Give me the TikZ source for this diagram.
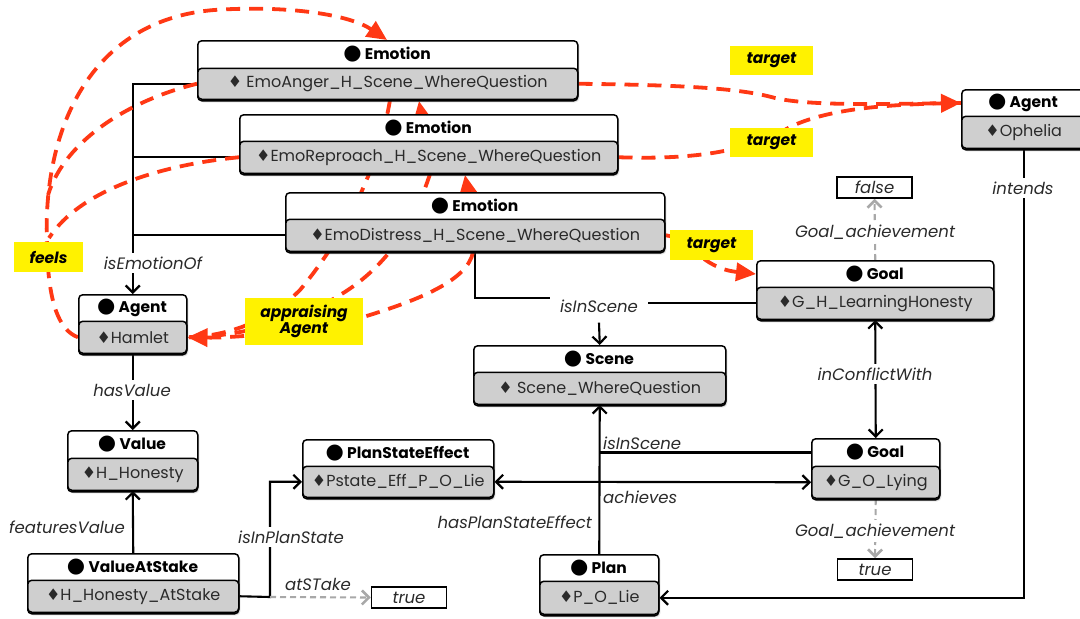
\documentclass[tikz,border=0pt]{standalone}
\usepackage{fontspec}
\setmainfont{Poppins}
\newfontfamily\symf{DejaVu Sans}
\usetikzlibrary{arrows.meta,shadows}
\pgfdeclarelayer{back}
\pgfdeclarelayer{bg}
\pgfdeclarelayer{mid}
\pgfsetlayers{back,bg,mid,main}
\definecolor{redd}{HTML}{FF3814}
\definecolor{boxgray}{HTML}{CFCFCF}
\definecolor{dgray}{HTML}{A8A8A8}
\definecolor{txt}{HTML}{2A2A2A}
\newcommand\fs{\fontsize{16}{18}\selectfont}
\newcommand\fh{\fontsize{15.5}{18}\selectfont}
\newcommand\fr{\fontsize{16.5}{18}\selectfont}
\newcommand\dotm{{\symf\fontsize{21}{21}\selectfont ●}}
\newcommand\dia{{\symf ♦}}
\tikzset{
  outerbox/.style={draw=black, line width=1.5pt, fill=white, rounded corners=4pt, inner sep=0pt,
     drop shadow={opacity=0.25, shadow xshift=1.5pt, shadow yshift=-1.5pt}},
  bodybox/.style={draw=black, line width=1.5pt, fill=boxgray, rounded corners=4pt, inner sep=0pt, font=\fs, text=txt},
  hdrtext/.style={font=\fh\bfseries, inner sep=0pt},
  conn/.style={draw=black, line width=2.1pt},
  barb/.tip={Straight Barb[length=7pt,width=14pt,line width=2.2pt]},
  arr/.style={-barb},
  arrboth/.style={barb-barb},
  rel/.style={font=\fr\itshape, text=txt, inner xsep=2pt, inner ysep=4pt},
  relw/.style={rel, fill=white},
  ylab/.style={fill=yellow, font=\fh\bfseries\itshape, inner sep=0pt, align=center},
  reddash/.style={draw=redd, line width=3.8pt, dash pattern=on 14pt off 9pt},
  redarr/.style={-{Triangle[length=20pt,width=18pt]}},
  graydash/.style={draw=dgray, line width=2.1pt, dash pattern=on 6pt off 4pt},
  grayarr/.style={-{Straight Barb[length=7pt,width=14pt,line width=2.6pt]}},
  valbox/.style={draw=black, line width=1.5pt, fill=white, font=\fr\itshape, text=txt, inner sep=0pt, minimum width=75pt, minimum height=21pt}
}
% #1 name, #2 x1, #3 top, #4 x2, #5 header bottom, #6 bottom, #7 header, #8 body
\newcommand\classbox[8]{%
  \node[outerbox, anchor=north west, minimum width={(#4-#2)*1pt}, minimum height={(#6-#3)*1pt}] (#1-o) at (#2,#3) {};
  \node[bodybox, anchor=south west, minimum width={(#4-#2)*1pt}, minimum height={(#6-#5)*1pt}] (#1) at (#2,#6) {#8};
  \node[hdrtext] (#1-h) at ({(#2+#4)/2},{(#3+#5)/2}) {#7};
}
\begin{document}
\begin{tikzpicture}[x=1pt,y=-1pt]
\useasboundingbox (0,0) rectangle (1080,619);
\begin{pgfonlayer}{back}
\fill[white] (0,0) rectangle (1080,619);
\end{pgfonlayer}

% ---------- class boxes ----------
\classbox{emo1}{197}{40}{577}{69}{100}{\dotm\ Emotion}{\dia\ EmoAnger\_H\_Scene\_WhereQuestion}
\classbox{emo2}{239}{114}{617}{142}{174}{\dotm\ Emotion}{\dia EmoReproach\_H\_Scene\_WhereQuestion}
\classbox{emo3}{285}{192}{664}{220}{252}{\dotm\ Emotion}{\dia EmoDistress\_H\_Scene\_WhereQuestion}
\classbox{oph}{961}{89}{1085}{117}{149}{\dotm\ Agent}{\dia Ophelia}
\classbox{glh}{756}{260}{993}{288}{320}{\dotm\ Goal}{\dia G\_H\_LearningHonesty}
\classbox{scene}{473}{345}{725}{373}{405}{\dotm\ Scene}{\dia\ Scene\_WhereQuestion}
\classbox{gol}{811}{438}{939}{467}{499}{\dotm\ Goal}{\dia G\_O\_Lying}
\classbox{plan}{539}{554}{658}{582}{615}{\dotm\ Plan}{\dia P\_O\_Lie}
\classbox{pse}{302}{439}{493}{467}{498}{\dotm\ PlanStateEffect}{\dia Pstate\_Eff\_P\_O\_Lie}
\classbox{hamlet}{78}{294}{186}{322}{354}{\dotm\ Agent}{\dia Hamlet}
\classbox{value}{67}{430}{197}{459}{491}{\dotm\ Value}{\dia H\_Honesty}
\classbox{vas}{27}{553}{238}{581}{613}{\dotm\ ValueAtStake}{\dia H\_Honesty\_AtStake}

\node[valbox] (false) at (874.5,187.5) {false};
\node[valbox] (true1) at (875,569.5) {true};
\node[valbox] (true2) at (409,597.5) {true};

% ---------- relation labels ----------
\node[relw] (l-iseo) at (153,263) {isEmotionOf};
\node[relw] (l-hasv) at (132,390) {hasValue};
\node[rel] (l-featv) at (67,527) {featuresValue};
\node[relw] (l-inps) at (291,537) {isInPlanState};
\node[rel] (l-atst) at (318,584) {atSTake};
\node[rel, inner xsep=10pt] (l-isc1) at (599,306) {isInScene};
\node[rel, anchor=west] (l-isc2) at (601,443) {isInScene};
\node[rel, anchor=west] (l-ach) at (601,497) {achieves};
\node[rel, anchor=east] (l-hpse) at (594,522) {hasPlanStateEffect};
\node[relw] (l-conf) at (875,374) {inConflictWith};
\node[relw] (l-ga1) at (875,232) {Goal\_achievement};
\node[relw] (l-ga2) at (875,531) {Goal\_achievement};
\node[relw] (l-int) at (1023,188) {intends};

% ---------- black / gray connectors ----------
\begin{pgfonlayer}{bg}
\draw[conn,arr] (emo1.west) -| (hamlet-o.north);
\draw[conn] (emo2.west) -- (emo2.west -| hamlet-o.north);
\draw[conn] (emo3.west) -- (emo3.west -| hamlet-o.north);
\draw[conn,arr] (hamlet.south) -- (value-o.north);
\draw[conn,arr] (vas-o.north) -- (value.south);
\coordinate (ips) at (270,597);
\draw[conn,arr] (vas.east) -- (ips) |- (pse.west);
\draw[graydash,grayarr] (ips) -- (true2.west);
\draw[conn] (emo3.south) |- ([yshift=8pt]l-isc1.west);
\draw[conn] (glh.west) -- (glh.west -| l-isc1.east);
\draw[conn,arr] ([yshift=-6pt]l-isc1.south) -- (scene-o.north);
\draw[conn,arrboth] (glh.south) -- (gol-o.north);
\draw[graydash,grayarr] (glh-o.north) -- (false.south);
\draw[graydash,grayarr] (gol.south) -- (true1.north);
\draw[conn,arr] (oph.south) |- (plan.east);
\draw[conn,arr] (plan-o.north) -- (scene.south);
\draw[conn] (gol-h -| gol-o.west) -- (gol-h -| plan-o.north);
\draw[conn,arrboth] (pse.east) -- (gol.west);
\end{pgfonlayer}

% ---------- red dashed relations ----------
\begin{pgfonlayer}{mid}
% feels
\draw[reddash,redarr] (hamlet.west) .. controls (58,330) and (48,300) .. (47,245)
   .. controls (42,130) and (90,20) .. (214,10)
   .. controls (290,5) and (350,15) .. (387,40);
\draw[reddash] (emo1.west) .. controls (130,100) and (65,140) .. (48,195);
\draw[reddash] (emo2.west) .. controls (160,165) and (80,190) .. (49,238);
\draw[reddash,redarr] (425,135) -- (419,101);
\draw[reddash,redarr] (472,215) -- (465,175);
% appraising Agent
\draw[reddash] (390,100) .. controls (380,160) and (350,230) .. (300,290)
   .. controls (270,320) and (230,336) .. (hamlet.east);
\draw[reddash] (430,174) .. controls (415,220) and (390,265) .. (340,295)
   .. controls (300,320) and (240,337) .. (hamlet.east);
\draw[reddash,redarr] (473,252) .. controls (468,280) and (420,300) .. (360,318)
   .. controls (300,333) and (230,338) .. (hamlet.east);
% target
\draw[reddash,redarr] (emo1.east) .. controls (680,85) and (740,88) .. (775,98)
   .. controls (810,106) and (880,104) .. (oph-h -| oph-o.west);
\draw[reddash] (emo2.east) .. controls (700,160) and (750,150) .. (790,127)
   .. controls (830,108) and (890,104) .. (oph-h -| oph-o.west);
\draw[reddash,redarr] (emo3.east) .. controls (690,238) and (700,268) .. (glh-h -| glh-o.west);
\end{pgfonlayer}

% ---------- yellow labels ----------
\node[ylab, minimum width=69pt, minimum height=30pt] (y-feels) at (48.5,257) {feels};
\node[ylab, minimum width=118pt, minimum height=47pt, font=\fontsize{15.5}{14}\selectfont\bfseries\itshape] (y-appr) at (304,321.5) {appraising\\Agent};
\node[ylab, minimum width=83pt, minimum height=29pt] (y-t1) at (771.5,60.5) {target};
\node[ylab, minimum width=83pt, minimum height=29pt] (y-t2) at (771.5,142.5) {target};
\node[ylab, minimum width=83pt, minimum height=30pt] (y-t3) at (711.5,245) {target};
\end{tikzpicture}
\end{document}
